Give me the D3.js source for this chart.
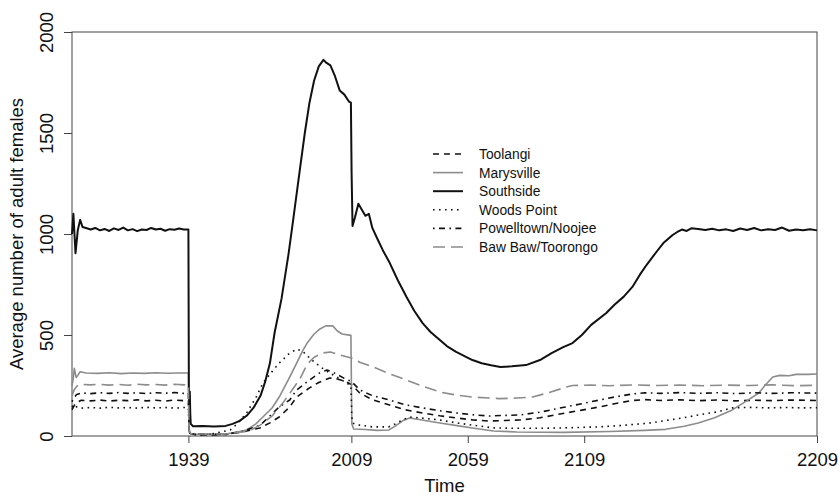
<!DOCTYPE html>
<html>
<head>
<meta charset="utf-8">
<script src="https://cdn.jsdelivr.net/npm/d3@7"></script>
<style>
  body { margin: 0; background: #fff; }
  svg { font-family: "Liberation Sans", Arial, sans-serif; }
</style>
</head>
<body>
<div id="chart"></div>
<script>
// values: [year, average number of adult females]
const toolangi = [
    [1889, 130], [1890, 152], [1891, 166], [1893, 177], [1897, 174], [1901, 178], [1905, 173],
    [1909, 177], [1913, 175], [1917, 179], [1921, 174], [1925, 177], [1929, 173], [1933, 178],
    [1937, 175], [1939, 176], [1939.3, 30], [1940, 10], [1945, 5], [1950, 5], [1955, 8],
    [1962, 20], [1969.7, 40], [1974, 65], [1978, 94], [1982.5, 144], [1985.5, 193], [1991, 238],
    [1995, 265], [1999.7, 287], [2003, 282], [2007, 267], [2009, 255], [2012.6, 213], [2018, 180],
    [2025.4, 153], [2032, 130], [2039.6, 114], [2047, 100], [2054.2, 89], [2061, 80], [2068.3, 74],
    [2075, 77], [2081.2, 79], [2090, 90], [2101, 114], [2108, 128], [2115.5, 144], [2122, 160],
    [2129.7, 176], [2135, 180], [2142, 176], [2150, 179], [2158, 175], [2166, 178], [2174, 174],
    [2182, 177], [2190, 175], [2198, 178], [2209, 176]
];
const marysville = [
    [1889, 250], [1889.5, 280], [1890, 335], [1890.8, 290], [1891.5, 300], [1892.5, 318],
    [1895, 312], [1900, 310], [1905, 313], [1910, 309], [1915, 312], [1920, 310], [1925, 313],
    [1930, 311], [1935, 312], [1939, 312], [1939.3, 20], [1940, 10], [1945, 8], [1950, 10],
    [1955, 10], [1960, 20], [1964, 30], [1968, 60], [1971, 94], [1975, 140], [1978, 193],
    [1982, 280], [1985.5, 361], [1988, 420], [1990, 460], [1993, 505], [1995.5, 530], [1998, 545],
    [2001, 545], [2003, 520], [2005, 505], [2008.8, 498], [2009.2, 60], [2010, 35], [2015, 32],
    [2020, 28], [2025, 30], [2028, 50], [2031, 75], [2034, 89], [2038, 82], [2047, 64], [2055, 50],
    [2061, 40], [2070, 25], [2080, 20], [2100, 18], [2120, 22], [2135, 28], [2144, 33], [2152, 48],
    [2158, 64], [2165, 90], [2172.6, 129], [2179, 175], [2184, 213], [2187, 255], [2190, 292],
    [2193, 300], [2197, 298], [2200, 305], [2205, 305], [2209, 307]
];
const southside = [
    [1889, 1000], [1889.6, 1100], [1890.5, 905], [1891.5, 1020], [1892.5, 1070], [1893.5, 1035],
    [1895, 1030], [1897, 1022], [1899, 1030], [1901, 1018], [1903, 1025], [1905, 1015], [1907, 1028],
    [1909, 1020], [1911, 1032], [1913, 1018], [1915, 1024], [1917, 1014], [1919, 1022], [1921, 1020],
    [1923, 1030], [1925, 1022], [1927, 1026], [1929, 1016], [1931, 1024], [1933, 1021], [1935, 1027],
    [1937, 1022], [1939, 1022], [1939.2, 230], [1939.4, 160], [1939.6, 220], [1939.8, 110],
    [1940, 60], [1941, 48], [1945, 50], [1950, 47], [1955, 50], [1958, 60], [1961, 75], [1964, 100],
    [1967, 140], [1970, 200], [1972, 270], [1974, 360], [1976, 510], [1979, 680], [1982, 900],
    [1984, 1070], [1987, 1330], [1989, 1500], [1991, 1650], [1993, 1760], [1995, 1830], [1997, 1862],
    [1998, 1850], [2000, 1835], [2002, 1780], [2004, 1710], [2006, 1690], [2008, 1655], [2008.8, 1650],
    [2009.1, 1300], [2009.5, 1040], [2010.5, 1080], [2012, 1150], [2013.5, 1120], [2015, 1090],
    [2016.5, 1100], [2018, 1030], [2020, 980], [2022.5, 920], [2025.5, 856], [2029, 770],
    [2032.7, 688], [2036, 620], [2039.6, 559], [2043, 515], [2047, 475], [2050, 445], [2054, 416],
    [2058, 393], [2061, 376], [2065, 360], [2069, 350], [2073, 342], [2078, 345], [2084, 351],
    [2090, 376], [2095, 410], [2100, 440], [2104, 460], [2108, 500], [2112, 550], [2118.5, 609],
    [2122, 650], [2126, 690], [2129.7, 738], [2133, 800], [2136, 850], [2140, 911], [2143, 955],
    [2147, 995], [2149, 1010], [2151, 1022], [2153, 1015], [2155, 1028], [2158, 1025], [2161, 1020],
    [2164, 1026], [2167, 1018], [2170, 1023], [2173, 1015], [2176, 1027], [2179, 1020], [2182, 1030],
    [2185, 1018], [2188, 1024], [2191, 1020], [2194, 1032], [2197, 1016], [2200, 1022], [2203, 1019],
    [2206, 1024], [2209, 1018]
];
const woodsPoint = [
    [1889, 150], [1890, 135], [1891, 145], [1893, 138], [1897, 141], [1901, 138], [1905, 142],
    [1909, 139], [1913, 141], [1917, 138], [1921, 142], [1925, 139], [1929, 141], [1933, 138],
    [1937, 141], [1939, 140], [1939.3, 20], [1940, 8], [1945, 5], [1950, 12], [1955, 25], [1957, 30],
    [1960, 60], [1964, 114], [1968, 190], [1971, 262], [1975, 320], [1978, 361], [1982, 405],
    [1985.5, 430], [1988, 420], [1992, 376], [1996, 340], [1999.7, 312], [2003, 290], [2007, 262],
    [2008.8, 250], [2009.2, 94], [2009.5, 64], [2012, 55], [2018, 45], [2025, 45], [2028, 60],
    [2031, 80], [2034, 94], [2040, 88], [2047, 79], [2054, 65], [2061, 54], [2070, 40], [2080, 38],
    [2090, 38], [2100, 40], [2115, 45], [2125, 52], [2137, 64], [2151, 89], [2160, 108], [2166, 119],
    [2172.6, 139], [2180, 142], [2188, 139], [2196, 141], [2203, 139], [2209, 140]
];
const powelltown = [
    [1889, 170], [1890, 192], [1891, 205], [1893, 213], [1897, 210], [1901, 214], [1905, 211],
    [1909, 215], [1913, 211], [1917, 214], [1921, 210], [1925, 214], [1929, 212], [1933, 215],
    [1937, 211], [1939, 213], [1939.3, 30], [1940, 10], [1955, 8], [1962, 22], [1970, 55],
    [1978, 144], [1982.5, 178], [1985.5, 228], [1991, 277], [1995, 310], [1998.5, 327], [2002, 310],
    [2006, 285], [2009, 270], [2012.6, 228], [2018, 200], [2025.4, 178], [2032, 155], [2039.6, 139],
    [2047, 125], [2054.2, 114], [2061, 105], [2068.3, 99], [2075, 102], [2081.2, 104], [2090, 118],
    [2101, 144], [2108, 160], [2115.5, 178], [2122, 193], [2129.7, 208], [2135, 214], [2142, 211],
    [2150, 215], [2158, 211], [2166, 214], [2174, 210], [2182, 214], [2190, 211], [2198, 214],
    [2209, 212]
];
const bawBaw = [
    [1889, 200], [1890, 230], [1891.5, 252], [1893, 256], [1897, 253], [1901, 256], [1905, 252],
    [1909, 255], [1913, 251], [1917, 256], [1921, 253], [1925, 255], [1929, 252], [1933, 256],
    [1937, 253], [1939, 255], [1939.3, 30], [1940, 10], [1955, 10], [1962, 20], [1965, 25],
    [1970, 55], [1975, 100], [1980, 170], [1984, 235], [1987, 285], [1990, 355], [1993, 390],
    [1996.7, 411], [2000, 416], [2004, 401], [2009, 386], [2012.6, 365], [2018.3, 342],
    [2025, 310], [2032.7, 277], [2040, 245], [2046.9, 218], [2054, 203], [2061, 193], [2072.6, 185],
    [2080, 188], [2086.8, 193], [2094, 215], [2101.4, 243], [2104, 250], [2112, 252], [2120, 249],
    [2130, 253], [2140, 250], [2150, 252], [2160, 249], [2170, 252], [2180, 250], [2190, 253],
    [2200, 249], [2209, 251]
];

const xTicks = [1939, 2009, 2059, 2109, 2209];
const yTicks = [0, 500, 1000, 1500, 2000];

const black = '#111';
const grey = '#8c8c8c';

const series = [
    { name: 'Toolangi', data: toolangi, color: black, width: 1.6, dash: '6,5' },
    { name: 'Marysville', data: marysville, color: grey, width: 1.6, dash: null },
    { name: 'Southside', data: southside, color: black, width: 2, dash: null },
    { name: 'Woods Point', data: woodsPoint, color: black, width: 1.6, dash: '1.6,4.4' },
    { name: 'Powelltown/Noojee', data: powelltown, color: black, width: 1.6, dash: '1.6,4.4,6,4.4' },
    { name: 'Baw Baw/Toorongo', data: bawBaw, color: grey, width: 1.6, dash: '12,6' }
];

const width = 840;
const height = 498;
const plot = { left: 72, right: 817, top: 32, bottom: 436 };

const svg = d3.select('#chart')
    .append('svg')
    .attr('width', width)
    .attr('height', height);

const x = d3.scaleLinear()
    .domain([1889, 2209])
    .range([plot.left, plot.right]);

const y = d3.scaleLinear()
    .domain([0, 2000])
    .range([plot.bottom, plot.top]);

// axes
const xAxis = svg.append('g')
    .attr('transform', `translate(0, ${plot.bottom})`)
    .call(d3.axisBottom(x).tickValues(xTicks).tickFormat(d3.format('d')).tickSize(7).tickSizeOuter(0));

const yAxis = svg.append('g')
    .attr('transform', `translate(${plot.left}, 0)`)
    .call(d3.axisLeft(y).tickValues(yTicks).tickFormat(d3.format('d')).tickSize(8).tickSizeOuter(0));

[xAxis, yAxis].forEach(a => {
    a.select('.domain').remove();
    a.selectAll('line').attr('stroke', '#444');
    a.selectAll('text')
        .attr('fill', '#111')
        .style('font-size', '18.5px')
        .style('font-family', '"Liberation Sans", Arial, sans-serif');
});

xAxis.selectAll('text').attr('y', 0).attr('dy', '30px');

// R style vertical y labels
yAxis.selectAll('text')
    .attr('x', 0)
    .attr('dy', 0)
    .attr('text-anchor', 'middle')
    .attr('transform', 'translate(-19, 0) rotate(-90)');

// box around the plot
svg.append('rect')
    .attr('x', plot.left)
    .attr('y', plot.top)
    .attr('width', plot.right - plot.left)
    .attr('height', plot.bottom - plot.top)
    .attr('fill', 'none')
    .attr('stroke', '#444')
    .attr('stroke-width', 1);

// axis titles
svg.append('text')
    .attr('x', (plot.left + plot.right) / 2)
    .attr('y', 492)
    .attr('text-anchor', 'middle')
    .style('font-size', '18.5px')
    .attr('fill', '#111')
    .text('Time');

svg.append('text')
    .attr('transform', `translate(23, ${(plot.top + plot.bottom) / 2}) rotate(-90)`)
    .attr('text-anchor', 'middle')
    .style('font-size', '18.5px')
    .attr('fill', '#111')
    .text('Average number of adult females');

// lines
const line = d3.line()
    .x(d => x(d[0]))
    .y(d => y(d[1]));

svg.append('g')
    .selectAll('path')
    .data(series)
    .enter()
    .append('path')
    .attr('d', d => line(d.data))
    .attr('fill', 'none')
    .attr('stroke', d => d.color)
    .attr('stroke-width', d => d.width)
    .attr('stroke-dasharray', d => d.dash)
    .attr('stroke-linejoin', 'round');

// legend
const legend = svg.append('g')
    .attr('transform', 'translate(433, 154)');

const rows = legend.selectAll('g')
    .data(series)
    .enter()
    .append('g')
    .attr('transform', (d, i) => `translate(0, ${i * 18.6})`);

rows.append('line')
    .attr('x1', 0)
    .attr('x2', 30)
    .attr('y1', 0)
    .attr('y2', 0)
    .attr('stroke', d => d.color)
    .attr('stroke-width', d => d.width)
    .attr('stroke-dasharray', d => d.dash);

rows.append('text')
    .attr('x', 46)
    .attr('y', 5)
    .style('font-size', '13.8px')
    .attr('fill', '#111')
    .text(d => d.name);
</script>
</body>
</html>
